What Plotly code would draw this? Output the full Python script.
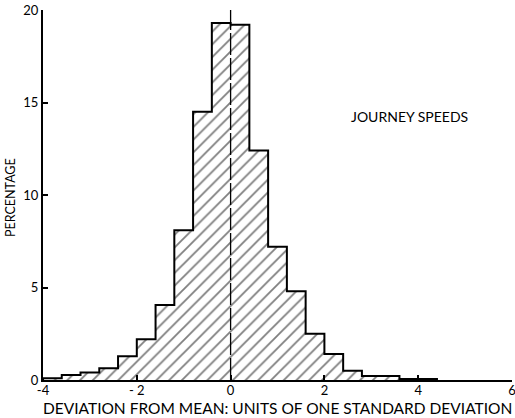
import plotly.graph_objects as go

# Bin left edges (units of one standard deviation) and percentages
bin_width = 0.4
bin_left = [-4.0, -3.6, -3.2, -2.8, -2.4, -2.0, -1.6, -1.2, -0.8, -0.4,
            0.0, 0.4, 0.8, 1.2, 1.6, 2.0, 2.4, 2.8, 3.2, 3.6, 4.0]
percentage = [0.1, 0.27, 0.4, 0.63, 1.28, 2.2, 4.05, 8.1, 14.5, 19.3,
              19.2, 12.4, 7.2, 4.8, 2.5, 1.4, 0.5, 0.22, 0.22, 0.06, 0.05]

x_ticks = [-4, -2, 0, 2, 4, 6]
x_ticklabels = ["-4", "- 2", "0", "2", "4", "6"]
y_ticks = [0, 5, 10, 15, 20]
y_ticklabels = ["0", "5", "10", "15", "20"]

x_title = "DEVIATION FROM MEAN: UNITS OF ONE STANDARD DEVIATION"
y_title = "PERCENTAGE"
label = "JOURNEY SPEEDS"

FONT = "Lato, 'Open Sans', sans-serif"

fig = go.Figure()

# hatched bars
fig.add_trace(go.Bar(
    x=bin_left, y=percentage, width=bin_width, offset=0,
    marker=dict(color="white", line=dict(width=0),
                pattern=dict(shape="/", fgcolor="black", bgcolor="white",
                             size=9, solidity=0.2)),
    hoverinfo="skip", showlegend=False,
))

# step outline
step_x = [bin_left[0]] + bin_left + [bin_left[-1] + bin_width]
step_y = [0] + percentage + [0]
fig.add_trace(go.Scatter(
    x=step_x, y=step_y, mode="lines", line=dict(shape="hv", color="black", width=2),
    hoverinfo="skip", showlegend=False,
))

# mean line
fig.add_trace(go.Scatter(
    x=[0, 0], y=[0, 20.3], mode="lines",
    line=dict(color="black", width=1.3, dash="22px,3px"),
    hoverinfo="skip", showlegend=False, cliponaxis=False,
))

fig.update_layout(
    width=515, height=418,
    margin=dict(l=43, r=3, t=10, b=38),
    paper_bgcolor="white", plot_bgcolor="white",
    bargap=0,
    font=dict(family=FONT, color="black", size=13),
    xaxis=dict(range=[-4, 6], tickvals=x_ticks, ticktext=x_ticklabels,
               showline=True, linecolor="black", linewidth=2,
               ticks="inside", ticklen=5, tickwidth=1.5, tickcolor="black",
               showgrid=False, zeroline=False, automargin=False,
               ticklabeloverflow="allow", ticklabelstandoff=-3,
               tickfont=dict(size=13)),
    yaxis=dict(range=[0, 20], tickvals=y_ticks, ticktext=y_ticklabels,
               showline=True, linecolor="black", linewidth=2,
               ticks="inside", ticklen=5, tickwidth=1.5, tickcolor="black",
               showgrid=False, zeroline=False, automargin=False,
               ticklabeloverflow="allow",
               tickfont=dict(size=13)),
    annotations=[
        dict(text=x_title, xref="paper", yref="paper", x=0.5, y=0,
             xanchor="center", yanchor="middle", yshift=-28, showarrow=False,
             font=dict(size=15.5)),
        dict(text=y_title, xref="paper", yref="paper", x=0, y=0.492,
             xanchor="center", yanchor="middle", xshift=-32, textangle=-90,
             showarrow=False, font=dict(size=12.5)),
        dict(text=label, xref="x", yref="y", x=3.82, y=14.27,
             xanchor="center", yanchor="middle", showarrow=False,
             font=dict(size=14)),
    ],
)

fig.write_html("out.html", config={"displayModeBar": False},
               post_script="document.body.style.margin='0';document.body.style.padding='0';document.body.style.overflow='hidden';")
